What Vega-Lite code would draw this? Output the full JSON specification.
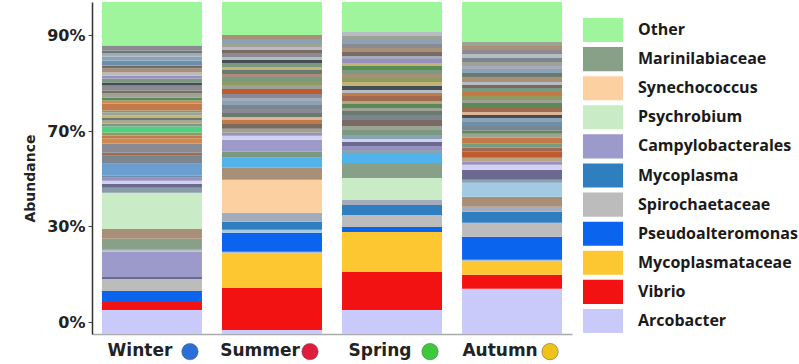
{
  "$schema": "https://vega.github.io/schema/vega-lite/v6.json",
  "width": 480,
  "height": 332,
  "autosize": {"type": "none"},
  "padding": {"left": 92, "top": 2, "right": 227, "bottom": 30},
  "background": "white",
  "config": {"view": {"stroke": null}, "font": "Open Sans"},
  "datasets": {
    "taxa": [
      {"season": "Winter", "taxon": "Arcobacter", "abundance": 7.2},
      {"season": "Winter", "taxon": "Vibrio", "abundance": 2.4},
      {"season": "Winter", "taxon": "Pseudoalteromonas", "abundance": 3.3},
      {"season": "Winter", "taxon": "Spirochaetaceae", "abundance": 3.6},
      {"season": "Winter", "taxon": "m2", "abundance": 0.6},
      {"season": "Winter", "taxon": "Campylobacterales", "abundance": 7.5},
      {"season": "Winter", "taxon": "m28", "abundance": 0.6},
      {"season": "Winter", "taxon": "Marinilabiaceae", "abundance": 3.3},
      {"season": "Winter", "taxon": "m17", "abundance": 3.0},
      {"season": "Winter", "taxon": "Psychrobium", "abundance": 10.8},
      {"season": "Winter", "taxon": "m1", "abundance": 1.5},
      {"season": "Winter", "taxon": "m2", "abundance": 1.2},
      {"season": "Winter", "taxon": "m3", "abundance": 0.9},
      {"season": "Winter", "taxon": "m16", "abundance": 0.9},
      {"season": "Winter", "taxon": "m18", "abundance": 0.6},
      {"season": "Winter", "taxon": "m4", "abundance": 3.6},
      {"season": "Winter", "taxon": "m5", "abundance": 2.4},
      {"season": "Winter", "taxon": "m6", "abundance": 0.9},
      {"season": "Winter", "taxon": "m7", "abundance": 2.7},
      {"season": "Winter", "taxon": "m8", "abundance": 1.5},
      {"season": "Winter", "taxon": "m13", "abundance": 0.9},
      {"season": "Winter", "taxon": "m9", "abundance": 0.9},
      {"season": "Winter", "taxon": "m10", "abundance": 1.8},
      {"season": "Winter", "taxon": "m12", "abundance": 0.9},
      {"season": "Winter", "taxon": "m11", "abundance": 0.9},
      {"season": "Winter", "taxon": "m27", "abundance": 0.9},
      {"season": "Winter", "taxon": "m25", "abundance": 0.6},
      {"season": "Winter", "taxon": "m14", "abundance": 0.9},
      {"season": "Winter", "taxon": "m12", "abundance": 0.6},
      {"season": "Winter", "taxon": "m13", "abundance": 2.1},
      {"season": "Winter", "taxon": "m8", "abundance": 0.9},
      {"season": "Winter", "taxon": "m22", "abundance": 0.9},
      {"season": "Winter", "taxon": "m14", "abundance": 1.2},
      {"season": "Winter", "taxon": "m24", "abundance": 0.9},
      {"season": "Winter", "taxon": "m7", "abundance": 1.5},
      {"season": "Winter", "taxon": "m15", "abundance": 0.9},
      {"season": "Winter", "taxon": "m12", "abundance": 1.2},
      {"season": "Winter", "taxon": "m16", "abundance": 0.9},
      {"season": "Winter", "taxon": "m28", "abundance": 0.9},
      {"season": "Winter", "taxon": "m17", "abundance": 1.2},
      {"season": "Winter", "taxon": "m24", "abundance": 0.9},
      {"season": "Winter", "taxon": "m18", "abundance": 1.5},
      {"season": "Winter", "taxon": "m19", "abundance": 1.2},
      {"season": "Winter", "taxon": "m26", "abundance": 0.9},
      {"season": "Winter", "taxon": "m27", "abundance": 0.9},
      {"season": "Winter", "taxon": "m7", "abundance": 1.5},
      {"season": "Winter", "taxon": "Other", "abundance": 13.0},

      {"season": "Summer", "taxon": "Arcobacter", "abundance": 1.2},
      {"season": "Summer", "taxon": "Vibrio", "abundance": 12.7},
      {"season": "Summer", "taxon": "Mycoplasmataceae", "abundance": 10.2},
      {"season": "Summer", "taxon": "m28", "abundance": 0.6},
      {"season": "Summer", "taxon": "Pseudoalteromonas", "abundance": 5.7},
      {"season": "Summer", "taxon": "m21", "abundance": 0.9},
      {"season": "Summer", "taxon": "Mycoplasma", "abundance": 2.4},
      {"season": "Summer", "taxon": "m26", "abundance": 2.7},
      {"season": "Summer", "taxon": "Synechococcus", "abundance": 9.9},
      {"season": "Summer", "taxon": "m17", "abundance": 3.6},
      {"season": "Summer", "taxon": "m20", "abundance": 3.0},
      {"season": "Summer", "taxon": "m12", "abundance": 1.8},
      {"season": "Summer", "taxon": "Campylobacterales", "abundance": 3.6},
      {"season": "Summer", "taxon": "m3", "abundance": 1.2},
      {"season": "Summer", "taxon": "m16", "abundance": 0.9},
      {"season": "Summer", "taxon": "m14", "abundance": 1.2},
      {"season": "Summer", "taxon": "m24", "abundance": 1.5},
      {"season": "Summer", "taxon": "m13", "abundance": 1.2},
      {"season": "Summer", "taxon": "m23", "abundance": 0.9},
      {"season": "Summer", "taxon": "m27", "abundance": 1.2},
      {"season": "Summer", "taxon": "m7", "abundance": 1.2},
      {"season": "Summer", "taxon": "m5", "abundance": 1.2},
      {"season": "Summer", "taxon": "m19", "abundance": 1.2},
      {"season": "Summer", "taxon": "m26", "abundance": 0.9},
      {"season": "Summer", "taxon": "m7", "abundance": 1.2},
      {"season": "Summer", "taxon": "m30", "abundance": 1.5},
      {"season": "Summer", "taxon": "m14", "abundance": 1.2},
      {"season": "Summer", "taxon": "m9", "abundance": 1.2},
      {"season": "Summer", "taxon": "m12", "abundance": 1.2},
      {"season": "Summer", "taxon": "m17", "abundance": 0.9},
      {"season": "Summer", "taxon": "m27", "abundance": 1.2},
      {"season": "Summer", "taxon": "m25", "abundance": 0.9},
      {"season": "Summer", "taxon": "m12", "abundance": 1.2},
      {"season": "Summer", "taxon": "m15", "abundance": 0.9},
      {"season": "Summer", "taxon": "m28", "abundance": 0.9},
      {"season": "Summer", "taxon": "m7", "abundance": 1.2},
      {"season": "Summer", "taxon": "m24", "abundance": 0.9},
      {"season": "Summer", "taxon": "m28", "abundance": 0.9},
      {"season": "Summer", "taxon": "m14", "abundance": 1.2},
      {"season": "Summer", "taxon": "m19", "abundance": 1.2},
      {"season": "Summer", "taxon": "m17", "abundance": 1.2},
      {"season": "Summer", "taxon": "Other", "abundance": 9.9},

      {"season": "Spring", "taxon": "Arcobacter", "abundance": 7.2},
      {"season": "Spring", "taxon": "Vibrio", "abundance": 11.4},
      {"season": "Spring", "taxon": "Mycoplasmataceae", "abundance": 12.0},
      {"season": "Spring", "taxon": "Pseudoalteromonas", "abundance": 1.5},
      {"season": "Spring", "taxon": "Spirochaetaceae", "abundance": 3.6},
      {"season": "Spring", "taxon": "Mycoplasma", "abundance": 3.0},
      {"season": "Spring", "taxon": "m26", "abundance": 1.5},
      {"season": "Spring", "taxon": "Psychrobium", "abundance": 6.6},
      {"season": "Spring", "taxon": "Marinilabiaceae", "abundance": 4.5},
      {"season": "Spring", "taxon": "m20", "abundance": 3.0},
      {"season": "Spring", "taxon": "m19", "abundance": 0.9},
      {"season": "Spring", "taxon": "m16", "abundance": 1.2},
      {"season": "Spring", "taxon": "m2", "abundance": 1.2},
      {"season": "Spring", "taxon": "m3", "abundance": 0.9},
      {"season": "Spring", "taxon": "m19", "abundance": 1.2},
      {"season": "Spring", "taxon": "m12", "abundance": 1.5},
      {"season": "Spring", "taxon": "m14", "abundance": 1.2},
      {"season": "Spring", "taxon": "m24", "abundance": 1.8},
      {"season": "Spring", "taxon": "m5", "abundance": 1.5},
      {"season": "Spring", "taxon": "m27", "abundance": 1.2},
      {"season": "Spring", "taxon": "m14", "abundance": 0.9},
      {"season": "Spring", "taxon": "m22", "abundance": 1.2},
      {"season": "Spring", "taxon": "m11", "abundance": 0.9},
      {"season": "Spring", "taxon": "m6", "abundance": 1.5},
      {"season": "Spring", "taxon": "m13", "abundance": 0.9},
      {"season": "Spring", "taxon": "m28", "abundance": 0.9},
      {"season": "Spring", "taxon": "m15", "abundance": 1.2},
      {"season": "Spring", "taxon": "m25", "abundance": 1.2},
      {"season": "Spring", "taxon": "m9", "abundance": 1.2},
      {"season": "Spring", "taxon": "m17", "abundance": 1.2},
      {"season": "Spring", "taxon": "m12", "abundance": 1.2},
      {"season": "Spring", "taxon": "m22", "abundance": 1.2},
      {"season": "Spring", "taxon": "m25", "abundance": 0.9},
      {"season": "Spring", "taxon": "m16", "abundance": 1.2},
      {"season": "Spring", "taxon": "m26", "abundance": 0.9},
      {"season": "Spring", "taxon": "m24", "abundance": 1.2},
      {"season": "Spring", "taxon": "m17", "abundance": 1.2},
      {"season": "Spring", "taxon": "m7", "abundance": 1.2},
      {"season": "Spring", "taxon": "m19", "abundance": 1.2},
      {"season": "Spring", "taxon": "m14", "abundance": 1.2},
      {"season": "Spring", "taxon": "m28", "abundance": 1.2},
      {"season": "Spring", "taxon": "Other", "abundance": 9.0},

      {"season": "Autumn", "taxon": "Arcobacter", "abundance": 13.6},
      {"season": "Autumn", "taxon": "Vibrio", "abundance": 4.2},
      {"season": "Autumn", "taxon": "Mycoplasmataceae", "abundance": 3.9},
      {"season": "Autumn", "taxon": "m28", "abundance": 0.6},
      {"season": "Autumn", "taxon": "Pseudoalteromonas", "abundance": 6.9},
      {"season": "Autumn", "taxon": "Spirochaetaceae", "abundance": 4.2},
      {"season": "Autumn", "taxon": "Mycoplasma", "abundance": 3.3},
      {"season": "Autumn", "taxon": "m26", "abundance": 1.5},
      {"season": "Autumn", "taxon": "m17", "abundance": 3.0},
      {"season": "Autumn", "taxon": "m21", "abundance": 4.2},
      {"season": "Autumn", "taxon": "m19", "abundance": 0.9},
      {"season": "Autumn", "taxon": "m2", "abundance": 3.0},
      {"season": "Autumn", "taxon": "m3", "abundance": 1.5},
      {"season": "Autumn", "taxon": "m16", "abundance": 0.9},
      {"season": "Autumn", "taxon": "m11", "abundance": 1.2},
      {"season": "Autumn", "taxon": "m30", "abundance": 1.8},
      {"season": "Autumn", "taxon": "m6", "abundance": 1.2},
      {"season": "Autumn", "taxon": "m12", "abundance": 1.2},
      {"season": "Autumn", "taxon": "m13", "abundance": 1.8},
      {"season": "Autumn", "taxon": "m14", "abundance": 1.2},
      {"season": "Autumn", "taxon": "m22", "abundance": 0.9},
      {"season": "Autumn", "taxon": "m5", "abundance": 1.5},
      {"season": "Autumn", "taxon": "m18", "abundance": 1.2},
      {"season": "Autumn", "taxon": "m19", "abundance": 1.2},
      {"season": "Autumn", "taxon": "m15", "abundance": 0.9},
      {"season": "Autumn", "taxon": "m23", "abundance": 0.9},
      {"season": "Autumn", "taxon": "m6", "abundance": 1.2},
      {"season": "Autumn", "taxon": "m22", "abundance": 1.5},
      {"season": "Autumn", "taxon": "m14", "abundance": 0.9},
      {"season": "Autumn", "taxon": "m9", "abundance": 1.2},
      {"season": "Autumn", "taxon": "m13", "abundance": 1.2},
      {"season": "Autumn", "taxon": "m12", "abundance": 1.2},
      {"season": "Autumn", "taxon": "m24", "abundance": 0.9},
      {"season": "Autumn", "taxon": "m28", "abundance": 0.9},
      {"season": "Autumn", "taxon": "m17", "abundance": 1.5},
      {"season": "Autumn", "taxon": "m27", "abundance": 1.2},
      {"season": "Autumn", "taxon": "m19", "abundance": 1.2},
      {"season": "Autumn", "taxon": "m26", "abundance": 0.9},
      {"season": "Autumn", "taxon": "m14", "abundance": 1.2},
      {"season": "Autumn", "taxon": "m5", "abundance": 1.2},
      {"season": "Autumn", "taxon": "m28", "abundance": 1.2},
      {"season": "Autumn", "taxon": "m7", "abundance": 1.2},
      {"season": "Autumn", "taxon": "m17", "abundance": 1.2},
      {"season": "Autumn", "taxon": "m14", "abundance": 1.2},
      {"season": "Autumn", "taxon": "Other", "abundance": 12.0}
    ],
    "seasons": [
      {"season": "Winter"},
      {"season": "Summer"},
      {"season": "Spring"},
      {"season": "Autumn"}
    ]
  },
  "encoding": {
    "x": {
      "field": "season",
      "type": "nominal",
      "sort": ["Winter", "Summer", "Spring", "Autumn"],
      "scale": {"paddingInner": 0.167, "paddingOuter": 0.083},
      "axis": {
        "title": null,
        "labelAngle": 0,
        "ticks": false,
        "labelOffset": -12,
        "labelPadding": 8,
        "labelFont": "DejaVu Sans",
        "labelFontSize": 17,
        "labelFontWeight": "bold",
        "labelColor": "#222222",
        "domainColor": "#aaaaaa",
        "domainWidth": 1.5
      }
    }
  },
  "layer": [
    {
      "data": {"name": "taxa"},
      "transform": [{"window": [{"op": "row_number", "as": "i"}]}],
      "mark": {"type": "bar"},
      "encoding": {
        "y": {
          "field": "abundance",
          "type": "quantitative",
          "stack": "normalize",
          "scale": {"domain": [0, 1]},
          "axis": {
            "title": "Abundance",
            "titleFont": "DejaVu Sans",
            "titleFontSize": 14,
            "titleFontWeight": "bold",
            "titleColor": "#222222",
            "titlePadding": 9,
            "titleY": 176,
            "values": [0.036, 0.325, 0.611, 0.9],
            "labelExpr": "datum.value < 0.1 ? '0%' : datum.value < 0.5 ? '30%' : datum.value < 0.8 ? '70%' : '90%'",
            "labelFont": "DejaVu Sans",
            "labelFontSize": 16,
            "labelFontWeight": "bold",
            "labelColor": "#222222",
            "labelPadding": 3,
            "tickSize": 4,
            "tickColor": "#444444",
            "domainColor": "#333333",
            "domainWidth": 1.5,
            "grid": false
          }
        },
        "color": {
          "field": "taxon",
          "type": "nominal",
          "scale": {
            "domain": ["Other", "Marinilabiaceae", "Synechococcus", "Psychrobium", "Campylobacterales", "Mycoplasma", "Spirochaetaceae", "Pseudoalteromonas", "Mycoplasmataceae", "Vibrio", "Arcobacter",
              "m1", "m2", "m3", "m4", "m5", "m6", "m7", "m8", "m9", "m10", "m11", "m12", "m13", "m14", "m15", "m16", "m17", "m18", "m19", "m20", "m21", "m22", "m23", "m24", "m25", "m26", "m27", "m28", "m29", "m30"],
            "range": ["#9ff59c", "#88a088", "#fdd0a2", "#c9ebc5", "#9c99cb", "#2f7fc0", "#bcbcbc", "#0a64ee", "#fdc732", "#f21212", "#cacafa",
              "#8a9aa8", "#6a6a90", "#d0d0f0", "#6a9ed0", "#7a8590", "#a06a50", "#8a8a92", "#d08a50", "#8f9a60", "#50d080", "#b5a582", "#7a9a80", "#c27a48", "#9ea294", "#454d55", "#9a90c0", "#a89078", "#6a90b0", "#8aa2b4", "#52b2ea", "#a2cae2", "#5a8a55", "#dcb496", "#7a6a62", "#c2b476", "#a4abbd", "#6a7a70", "#b6bcc4", "#886090", "#c25a30"]
          },
          "legend": {
            "orient": "none",
            "legendX": 497,
            "legendY": 14,
            "values": ["Other", "Marinilabiaceae", "Synechococcus", "Psychrobium", "Campylobacterales", "Mycoplasma", "Spirochaetaceae", "Pseudoalteromonas", "Mycoplasmataceae", "Vibrio", "Arcobacter"],
            "title": null,
            "padding": 0,
            "symbolType": "M-1.43,-0.86H1.43V0.86H-1.43Z",
            "symbolSize": 784,
            "symbolStrokeWidth": 0,
            "symbolOpacity": 1,
            "labelFontSize": 16,
            "labelFontWeight": "bold",
            "labelColor": "#1a1a1a",
            "labelOffset": 21,
            "rowPadding": 2.1,
            "labelLimit": 300
          }
        },
        "order": {"field": "i", "type": "quantitative"}
      }
    },
    {
      "data": {"name": "seasons"},
      "mark": {"type": "point", "shape": "circle", "filled": true, "size": 270, "xOffset": 38, "opacity": 1, "stroke": "#555555", "strokeWidth": 0.5},
      "encoding": {
        "y": {"datum": -0.053, "type": "quantitative", "scale": {"domain": [0, 1]}, "axis": null},
        "color": {
          "field": "season",
          "type": "nominal",
          "scale": {"domain": ["Winter", "Summer", "Spring", "Autumn"], "range": ["#2a6fd8", "#e01c3c", "#3cca3c", "#eec21a"]},
          "legend": null
        }
      }
    }
  ],
  "resolve": {"scale": {"color": "independent", "y": "independent"}}
}
